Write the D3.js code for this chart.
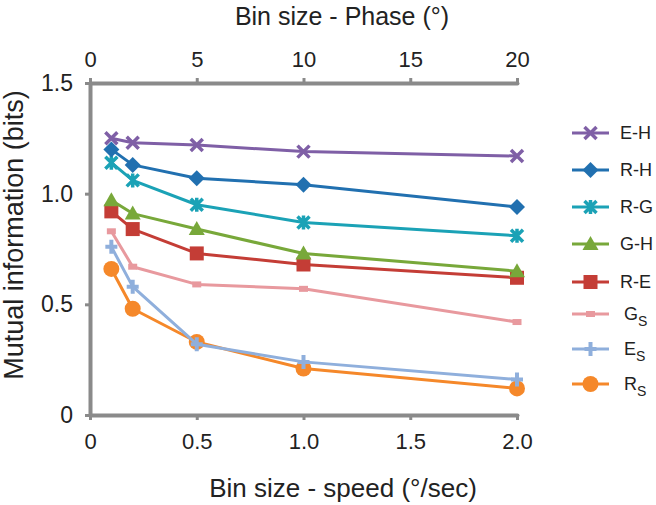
<!DOCTYPE html>
<html><head><meta charset="utf-8">
<script src="https://cdn.jsdelivr.net/npm/d3@7"></script>
<style>body{margin:0;background:#fff}text{font-family:"Liberation Sans",Arial,sans-serif}</style>
</head><body><svg id="c" width="656" height="505"></svg>
<script>
const xSpeed = [0.1, 0.2, 0.5, 1.0, 2.0];
const speedTicks = [0, 0.5, 1.0, 1.5, 2.0];
const phaseTicks = [0, 5, 10, 15, 20];
const yTicks = [0, 0.5, 1.0, 1.5];
const names = ["E-H", "R-H", "R-G", "G-H", "R-E", "Gs", "Es", "Rs"];
const EH = [1.25, 1.23, 1.22, 1.19, 1.17];
const RH = [1.20, 1.13, 1.07, 1.04, 0.94];
const RG = [1.14, 1.06, 0.95, 0.87, 0.81];
const GH = [0.97, 0.91, 0.84, 0.73, 0.65];
const RE = [0.92, 0.84, 0.73, 0.68, 0.62];
const Gs = [0.83, 0.67, 0.59, 0.57, 0.42];
const Es = [0.76, 0.58, 0.32, 0.24, 0.16];
const Rs = [0.66, 0.48, 0.33, 0.21, 0.12];
const seriesVals = [EH, RH, RG, GH, RE, Gs, Es, Rs];
const colors = ["#7f5fa6", "#2170b0", "#1ba2b6", "#78a83a", "#c43d36", "#e8999e", "#8fafdc", "#f5882a"];
const markers = ["x", "diamond", "asterisk", "triangle", "square", "bar", "plus", "circle"];

const svg = d3.select("#c");
const x = d3.scaleLinear().domain([0, 2]).range([90, 517]);
const xTop = d3.scaleLinear().domain([0, 20]).range([90, 517]);
const y = d3.scaleLinear().domain([0, 1.5]).range([415, 83]);
const axisColor = "#8a8a8a";
const fmt = d => d === 0 ? "0" : d3.format(".1f")(d);

function styleAxis(g, fs) {
  g.select(".domain").attr("stroke", axisColor).attr("stroke-width", 4).attr("stroke-linecap", "round");
  g.selectAll(".tick line").attr("stroke", axisColor).attr("stroke-width", 3);
  g.selectAll(".tick text").attr("fill", "#222").attr("font-size", fs);
}
const gb = svg.append("g").attr("transform", `translate(0,${y(0)})`)
  .call(d3.axisBottom(x).tickValues(speedTicks).tickFormat(fmt).tickSizeInner(5).tickSizeOuter(0).tickPadding(13));
styleAxis(gb, 22);
const gt = svg.append("g").attr("transform", `translate(0,${y(1.5)})`)
  .call(d3.axisTop(xTop).tickValues(phaseTicks).tickSizeInner(5).tickSizeOuter(0).tickPadding(11));
styleAxis(gt, 22);
const gl = svg.append("g").attr("transform", `translate(${x(0)},0)`)
  .call(d3.axisLeft(y).tickValues(yTicks).tickFormat(fmt).tickSizeInner(5).tickSizeOuter(0).tickPadding(12));
styleAxis(gl, 23);

svg.append("text").attr("x", 342).attr("y", 25).attr("text-anchor", "middle").attr("font-size", 25).attr("fill", "#222").text("Bin size - Phase (°)");
svg.append("text").attr("x", 343).attr("y", 497).attr("text-anchor", "middle").attr("font-size", 26).attr("fill", "#222").text("Bin size - speed (°/sec)");
svg.append("text").attr("transform", "translate(23,235) rotate(-90)").attr("text-anchor", "middle").attr("font-size", 27).attr("fill", "#222").text("Mutual information (bits)");

function drawMarker(g, type, cx, cy, col) {
  const s = g.append("g").attr("transform", `translate(${cx},${cy})`);
  if (type === "x") {
    s.append("path").attr("d", "M-6,-6L6,6M-6,6L6,-6").attr("stroke", col).attr("stroke-width", 3.5).attr("fill", "none");
  } else if (type === "diamond") {
    s.append("path").attr("d", "M0,-8L8,0L0,8L-8,0Z").attr("fill", col);
  } else if (type === "asterisk") {
    s.append("path").attr("d", "M-6,-6L6,6M-6,6L6,-6M0,-7L0,7").attr("stroke", col).attr("stroke-width", 3.5).attr("fill", "none");
  } else if (type === "triangle") {
    s.append("path").attr("d", "M0,-8L8,6L-8,6Z").attr("fill", col);
  } else if (type === "square") {
    s.append("rect").attr("x", -7).attr("y", -7).attr("width", 14).attr("height", 14).attr("fill", col);
  } else if (type === "bar") {
    s.append("rect").attr("x", -4.5).attr("y", -3).attr("width", 9).attr("height", 6).attr("fill", col);
  } else if (type === "plus") {
    s.append("path").attr("d", "M-6,0L6,0M0,-7L0,7").attr("stroke", col).attr("stroke-width", 4).attr("fill", "none");
  } else if (type === "circle") {
    s.append("circle").attr("r", 8).attr("fill", col);
  }
}

const line = d3.line().x((d, i) => x(xSpeed[i])).y(d => y(d));
for (let k = seriesVals.length - 1; k >= 0; k--) {
  const g = svg.append("g");
  g.append("path").datum(seriesVals[k]).attr("d", line).attr("fill", "none")
    .attr("stroke", colors[k]).attr("stroke-width", 3).attr("stroke-linejoin", "round");
  seriesVals[k].forEach((v, i) => drawMarker(g, markers[k], x(xSpeed[i]), y(v), colors[k]));
}

const legY = [133, 170, 207, 244, 282, 314, 349, 384];
names.forEach((n, k) => {
  const g = svg.append("g");
  g.append("line").attr("x1", 572).attr("x2", 609).attr("y1", legY[k]).attr("y2", legY[k])
    .attr("stroke", colors[k]).attr("stroke-width", 3);
  drawMarker(g, markers[k], 590.5, legY[k], colors[k]);
  const t = g.append("text").attr("y", legY[k] + 6).attr("font-size", 18).attr("fill", "#222");
  if (n.length === 2) {
    t.attr("x", 624);
    t.append("tspan").text(n[0]);
    t.append("tspan").attr("dy", 6).attr("font-size", 14).text("S");
  } else {
    t.attr("x", 620).text(n);
  }
});
</script></body></html>
